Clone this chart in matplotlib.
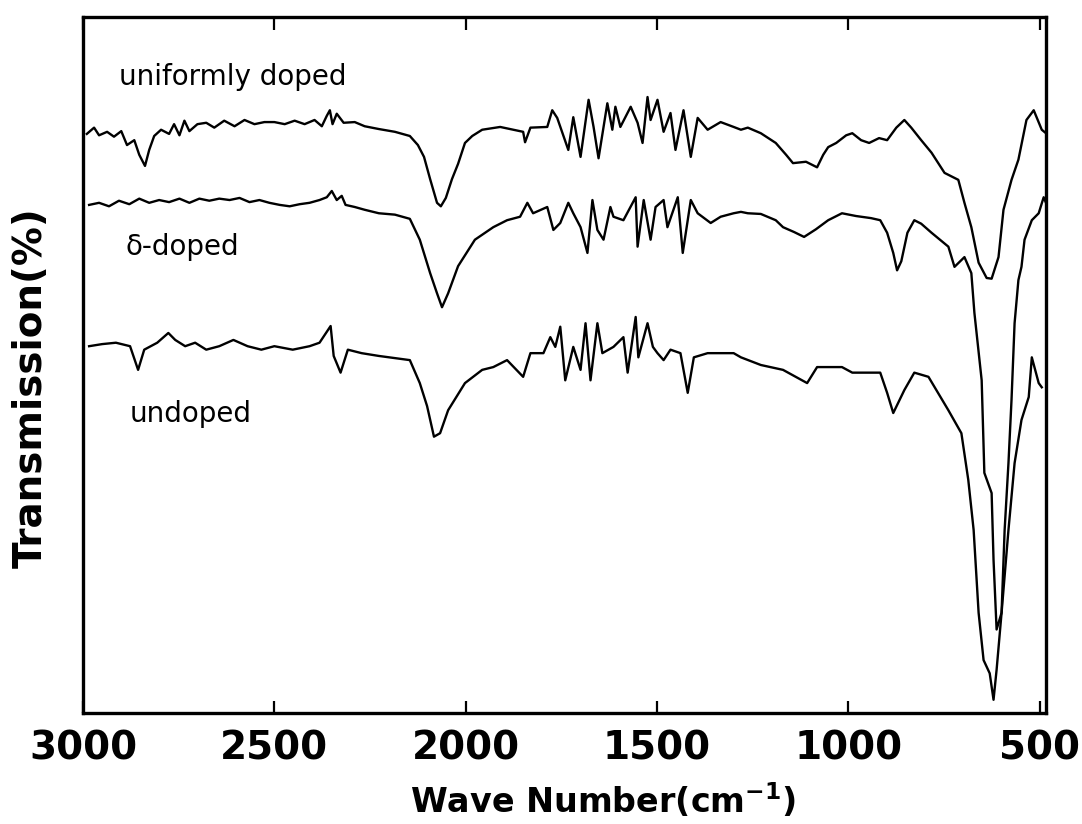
import matplotlib
matplotlib.use('Agg')
import matplotlib.pyplot as plt

# IR transmission spectra
# wave number (cm-1) and transmission (arbitrary %, offset per curve)
uni_wn = [2990, 2971, 2958, 2937, 2919, 2900, 2885, 2866, 2853, 2838, 2827, 2814, 2796, 2775, 2762,
          2748, 2735, 2722, 2701, 2678, 2657, 2631, 2604, 2578, 2552, 2526, 2500, 2473, 2447, 2421,
          2395, 2376, 2363, 2355, 2348, 2337, 2319, 2290, 2264, 2227, 2185, 2146, 2125, 2109, 2093,
          2075, 2065, 2052, 2036, 2020, 2002, 1983, 1957, 1910, 1850, 1845, 1831, 1787, 1774, 1761,
          1732, 1719, 1700, 1679, 1666, 1653, 1630, 1617, 1609, 1596, 1569, 1551, 1538, 1525, 1517,
          1499, 1483, 1465, 1452, 1431, 1412, 1394, 1368, 1334, 1300, 1281, 1263, 1229, 1190, 1163,
          1145, 1111, 1082, 1066, 1053, 1032, 1006, 990, 967, 946, 920, 899, 875, 854, 836,
          810, 783, 749, 713, 697, 679, 660, 639, 626, 608, 595, 574, 556, 542, 535,
          516, 495, 484]
uni_t = [83.2, 84.1, 83.0, 83.5, 82.8, 83.6, 81.6, 82.3, 80.2, 78.6, 80.9, 82.9, 83.8, 83.2, 84.6,
         83.0, 85.1, 83.6, 84.6, 84.8, 84.1, 85.1, 84.3, 85.2, 84.6, 84.9, 84.9, 84.6, 85.1, 84.6,
         85.2, 84.3, 85.8, 86.6, 84.6, 86.1, 84.8, 84.9, 84.3, 83.9, 83.5, 82.9, 81.6, 79.9, 76.7,
         73.3, 72.8, 74.0, 76.7, 78.9, 81.9, 82.9, 83.8, 84.2, 83.5, 82.0, 84.1, 84.2, 86.6, 85.5,
         80.9, 85.6, 79.9, 88.1, 84.2, 79.7, 87.6, 83.8, 87.1, 84.2, 87.1, 84.8, 81.9, 88.5, 85.2,
         88.1, 83.5, 86.2, 80.9, 86.6, 79.9, 85.5, 83.8, 84.9, 84.2, 83.8, 84.1, 83.3, 81.9, 80.2,
         79.0, 79.2, 78.4, 80.2, 81.3, 81.9, 83.0, 83.3, 82.3, 81.9, 82.6, 82.3, 84.1, 85.2, 84.1,
         82.3, 80.5, 77.6, 76.6, 73.3, 69.8, 64.7, 62.5, 62.4, 65.5, 72.3, 76.6, 79.5, 83.3, 85.2,
         86.6, 83.8, 83.3]

delta_wn = [2984, 2958, 2932, 2906, 2879, 2853, 2827, 2801, 2775, 2748, 2722, 2696, 2670, 2644, 2617,
            2591, 2565, 2539, 2513, 2486, 2460, 2434, 2408, 2382, 2363, 2350, 2337, 2324, 2314, 2290,
            2264, 2227, 2185, 2146, 2120, 2093, 2075, 2062, 2046, 2020, 1976, 1928, 1892, 1858, 1839,
            1824, 1787, 1771, 1753, 1732, 1719, 1700, 1682, 1669, 1656, 1640, 1622, 1614, 1588, 1556,
            1551, 1535, 1517, 1504, 1483, 1473, 1446, 1433, 1420, 1412, 1394, 1360, 1334, 1300, 1281,
            1263, 1229, 1190, 1171, 1142, 1116, 1085, 1053, 1017, 980, 941, 917, 899, 883, 873,
            862, 846, 828, 810, 783, 739, 723, 697, 679, 671, 652, 645, 626, 621, 613,
            600, 592, 582, 574, 566, 556, 548, 540, 521, 503, 490, 484]
delta_t = [73.0, 73.3, 72.8, 73.6, 73.1, 73.9, 73.3, 73.7, 73.4, 73.9, 73.3, 73.9, 73.6, 73.9, 73.7,
           74.0, 73.4, 73.7, 73.3, 73.0, 72.8, 73.1, 73.3, 73.7, 74.1, 75.0, 73.7, 74.3, 73.0, 72.7,
           72.3, 71.8, 71.6, 71.0, 68.0, 63.2, 60.3, 58.3, 60.3, 64.2, 68.0, 69.8, 70.8, 71.3, 73.3,
           71.8, 72.7, 69.4, 70.4, 73.3, 71.8, 69.8, 66.1, 73.7, 69.4, 68.0, 72.7, 71.3, 70.8, 74.1,
           67.0, 73.7, 68.0, 72.7, 73.7, 69.8, 74.1, 66.1, 70.8, 73.7, 71.8, 70.4, 71.3, 71.8, 72.0,
           71.8, 71.7, 70.8, 69.8, 69.1, 68.4, 69.5, 70.8, 71.8, 71.4, 71.1, 70.8, 69.0, 66.1, 63.6,
           64.9, 69.0, 70.8, 70.3, 69.0, 67.0, 64.1, 65.5, 63.2, 57.5, 47.8, 34.5, 31.6, 22.0, 12.0,
           14.4, 26.3, 35.9, 45.0, 56.0, 62.2, 64.1, 68.0, 70.8, 71.8, 74.1, 73.3]

undoped_wn = [2984, 2950, 2914, 2877, 2856, 2840, 2806, 2777, 2759, 2733, 2707, 2678, 2644, 2607, 2570,
              2534, 2500, 2452, 2408, 2382, 2353, 2345, 2327, 2308, 2272, 2227, 2146, 2120, 2101, 2083,
              2067, 2046, 2002, 1957, 1928, 1892, 1850, 1831, 1797, 1779, 1766, 1753, 1740, 1719, 1700,
              1687, 1674, 1656, 1643, 1614, 1588, 1577, 1556, 1549, 1525, 1511, 1499, 1483, 1465, 1439,
              1420, 1404, 1368, 1334, 1300, 1281, 1229, 1171, 1108, 1082, 1017, 990, 917, 899, 883,
              854, 828, 791, 739, 705, 687, 673, 660, 647, 631, 621, 613, 600, 582, 566,
              548, 529, 521, 503, 495]
undoped_t = [52.7, 53.0, 53.2, 52.7, 49.3, 52.2, 53.2, 54.6, 53.6, 52.7, 53.2, 52.2, 52.7, 53.6, 52.7,
             52.2, 52.7, 52.2, 52.7, 53.2, 55.6, 51.3, 48.9, 52.2, 51.7, 51.3, 50.7, 47.4, 44.1, 39.7,
             40.2, 43.5, 47.4, 49.3, 49.7, 50.7, 48.3, 51.7, 51.7, 54.0, 52.6, 55.5, 47.8, 52.6, 49.3,
             56.0, 47.8, 56.0, 51.7, 52.6, 54.0, 48.9, 56.9, 51.1, 56.0, 52.6, 51.7, 50.7, 52.2, 51.7,
             46.0, 51.1, 51.7, 51.7, 51.7, 51.1, 50.0, 49.3, 47.4, 49.7, 49.7, 48.9, 48.9, 46.0, 43.1,
             46.4, 48.9, 48.3, 43.5, 40.2, 33.5, 26.3, 14.4, 7.6, 5.7, 1.9, 6.2, 14.4, 26.3, 35.9,
             42.1, 45.4, 51.1, 47.4, 46.8]

curve_labels = ['uniformly doped', 'δ-doped', 'undoped']
label_pos = [(2905, 90.2), (2890, 65.8), (2879, 41.8)]
xticks = [3000, 2500, 2000, 1500, 1000, 500]

fig = plt.figure(figsize=(10.82, 8.24), dpi=100)
ax = fig.add_axes([0.0767, 0.1347, 0.890, 0.8447])

for wn, t in [(uni_wn, uni_t), (delta_wn, delta_t), (undoped_wn, undoped_t)]:
    ax.plot(wn, t, color='black', lw=1.7)

for txt, (x, y) in zip(curve_labels, label_pos):
    ax.text(x, y, txt, fontsize=20, va='baseline', ha='left')

ax.set_xlim(3000, 484)
ax.set_ylim(0, 100)
ax.set_xticks(xticks)
ax.set_xticklabels([str(v) for v in xticks], fontsize=28, fontweight='bold')
ax.set_yticks([])
ax.tick_params(axis='x', direction='in', length=9, width=1.6, top=True, pad=12)

for s in ax.spines.values():
    s.set_linewidth(2.4)

ax.set_xlabel(r'Wave Number(cm$^{\mathbf{-1}}$)', fontsize=24, fontweight='bold')
ax.xaxis.set_label_coords(0.54, -0.098)
ax.set_ylabel('Transmission(%)', fontsize=28, fontweight='bold')
ax.yaxis.set_label_coords(-0.034, 0.467)

plt.savefig('out.png', dpi=100)
